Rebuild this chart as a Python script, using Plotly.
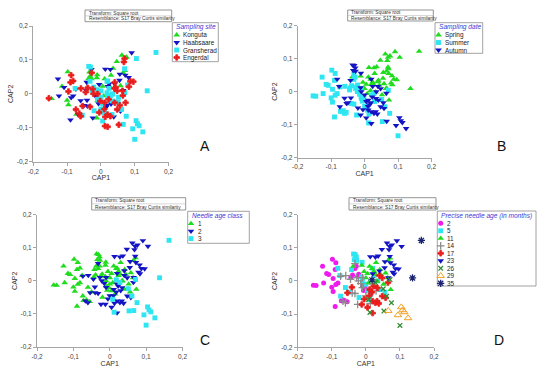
import plotly.graph_objects as go

W, H = 550, 372
FONT = "Liberation Sans, Arial, sans-serif"

# ------------------------------------------------------------------ data
# CAP ordination scores (CAP1, CAP2) of every needle sample, its precise
# needle age (months) and its sampling site (K=Konguta, H=Haabsaare,
# G=Gransherad, E=Engerdal).
cap1 = [
    # 2 months
    -0.154, -0.146, -0.127, -0.098, -0.088, -0.115, -0.109, -0.124, -0.096, -0.090,
    -0.082, -0.100, -0.096, -0.072, -0.064, -0.055, -0.090, -0.039, -0.044, -0.028,
    -0.032, -0.021, -0.024, -0.010, -0.002, -0.007, -0.088,
    # 5 months
    -0.036, -0.031, -0.028, -0.034, -0.027, -0.011, -0.042, -0.082, -0.074, -0.050,
    0.020, 0.024, 0.035, 0.041, 0.056, 0.011, -0.012, -0.010, 0.005, -0.076,
    -0.020, 0.015, -0.060, 0.000,
    # 11 months
    -0.037, -0.012, 0.011, 0.018, 0.024, 0.028, 0.041, 0.044, 0.058, 0.064,
    0.071, 0.066, 0.073, 0.000, 0.008, 0.033, -0.005, 0.052, 0.005, 0.030,
    # 14 months
    -0.074, -0.059, -0.032, -0.027, -0.022, -0.015, -0.010, -0.040, -0.032, -0.067,
    -0.060, -0.024, 0.000, 0.013, -0.010, 0.020, 0.030, -0.045,
    # 17 months
    -0.054, -0.041, -0.012, 0.020, 0.028, 0.033, 0.038, 0.011, 0.018, 0.023,
    0.034, 0.040, 0.048, 0.020, 0.048, 0.058, 0.005, 0.065, 0.010, -0.005,
    # 23 months
    0.062, 0.070, 0.076, 0.091, 0.105, 0.068, 0.013, 0.028, 0.036, 0.047,
    0.056, 0.072, 0.082, 0.087, 0.079, 0.083, 0.096, 0.055, 0.040, 0.020,
    0.070, 0.066,
    # 26 months
    0.051, 0.061, 0.075, 0.053, 0.012, 0.100, 0.071, 0.008, 0.028,
    # 29 months
    0.066, 0.104, 0.108, 0.113, 0.094, 0.124,
    # 35 months
    0.163, 0.137, 0.018,
]
cap2 = [
    # 2 months
    -0.013, -0.014, 0.044, 0.065, 0.055, 0.022, 0.019, -0.006, 0.007, 0.034,
    -0.006, -0.019, -0.032, -0.060, -0.058, -0.063, -0.077, 0.018, 0.011, 0.044,
    0.037, 0.020, 0.014, -0.016, -0.021, -0.029, -0.011,
    # 5 months
    0.081, 0.079, 0.072, 0.064, 0.062, 0.056, 0.034, 0.038, -0.046, -0.034,
    0.038, 0.016, 0.000, -0.026, -0.034, -0.056, 0.012, 0.000, -0.030, 0.016,
    -0.050, -0.040, -0.020, -0.010,
    # 11 months
    0.044, 0.047, 0.044, 0.037, 0.029, 0.020, 0.034, 0.019, 0.024, 0.009,
    0.069, 0.062, -0.026, 0.009, -0.006, -0.001, 0.028, -0.010, 0.022, 0.055,
    # 14 months
    0.014, 0.016, 0.052, 0.010, 0.000, -0.008, 0.010, -0.036, -0.038, -0.061,
    -0.066, -0.071, -0.045, -0.068, -0.020, -0.010, -0.030, 0.005,
    # 17 months
    -0.036, -0.019, -0.071, -0.061, -0.066, -0.061, -0.068, -0.026, -0.034, -0.016,
    -0.021, 0.016, 0.009, -0.097, -0.046, -0.051, -0.080, -0.005, -0.045, -0.055,
    # 23 months
    0.114, 0.104, 0.108, 0.121, 0.104, 0.094, 0.073, 0.072, 0.075, 0.095,
    0.058, 0.055, 0.048, 0.037, 0.026, 0.021, 0.036, 0.040, 0.030, 0.022,
    0.074, 0.010,
    # 26 months
    -0.024, -0.046, -0.066, -0.091, -0.095, -0.134, 0.004, -0.056, -0.005,
    # 29 months
    -0.090, -0.079, -0.088, -0.094, -0.103, -0.112,
    # 35 months
    0.122, 0.009, 0.003,
]
age_months = [2] * 27 + [5] * 24 + [11] * 20 + [14] * 18 + [17] * 20 + [23] * 22 + [26] * 9 + [29] * 6 + [35] * 3
site_code = list(
    "EKHKEKHHEEHKKKEGHEHKGGEGEHH"   # 2
    "GGHKEKHEEHGGGEEGGEGGGHHG"      # 5
    "KKKGHKEEKEKKEGKGHGKK"          # 11
    "HEKGEHKHEHEHGEKGHE"            # 14
    "EHKEEGHEHEGEEEEHGEEE"          # 17
    "KEKHGEHHKKHHHEGEEHHHGH"        # 23
    "GGGEEGGGG"                     # 26
    "GGGGGG"                        # 29
    "GGG"                           # 35
)

SITE_NAMES = {"K": "Konguta", "H": "Haabsaare", "G": "Gransherad", "E": "Engerdal"}
SITES = ["Konguta", "Haabsaare", "Gransherad", "Engerdal"]
DATES = ["Spring", "Summer", "Autumn"]
CLASSES = ["1", "2", "3"]
AGES = ["2", "5", "11", "14", "17", "23", "26", "29", "35"]
DATE_OF_AGE = {2: "Summer", 5: "Autumn", 11: "Spring", 14: "Summer", 17: "Autumn",
               23: "Spring", 26: "Summer", 29: "Autumn", 35: "Spring"}
CLASS_OF_AGE = {2: "1", 5: "1", 11: "1", 14: "2", 17: "2", 23: "2", 26: "3", 29: "3", 35: "3"}

TICK_VALUES = [-0.2, -0.1, 0, 0.1, 0.2]
TICK_LABELS = ["-0,2", "-0,1", "0", "0,1", "0,2"]

site = [SITE_NAMES[c] for c in site_code]
date = [DATE_OF_AGE[a] for a in age_months]
age_class = [CLASS_OF_AGE[a] for a in age_months]
age_label = [str(a) for a in age_months]

# ------------------------------------------------------------------ styles
GREEN, BLUE, CYAN, RED = "#1fdc1f", "#1414c4", "#2ee6f2", "#ec1c1c"
ST_UP = dict(symbol="triangle-up", color=GREEN, size=5.8)
ST_DOWN = dict(symbol="triangle-down", color=BLUE, size=5.8)
ST_SQ = dict(symbol="square", color=CYAN, size=4.9)
ST_RED = dict(symbol="cross", color=RED, size=4.6, lw=0.8)
STYLE_SITE = {"Konguta": ST_UP, "Haabsaare": ST_DOWN, "Gransherad": ST_SQ, "Engerdal": ST_RED}
STYLE_DATE = {"Spring": ST_UP, "Summer": ST_SQ, "Autumn": ST_DOWN}
STYLE_CLASS = {"1": ST_UP, "2": ST_DOWN, "3": ST_SQ}
STYLE_AGE = {
    "2": dict(symbol="circle", color="#ee1aee", size=5),
    "5": ST_SQ,
    "11": ST_UP,
    "14": dict(symbol="cross-thin-open", color="#8c8c8c", size=5.5, lw=1.3),
    "17": ST_RED,
    "23": ST_DOWN,
    "26": dict(symbol="x-thin-open", color="#2e8b2e", size=4.6, lw=1.3),
    "29": dict(symbol="triangle-up-open", color="#f0a020", size=6.5, lw=1.0),
    "35": dict(symbol="asterisk-open", color="#1a2470", size=6, lw=1.3),
}


def marker(st):
    m = dict(symbol=st["symbol"], color=st["color"], size=st["size"])
    if "lw" in st:
        m["line"] = dict(color=st["color"], width=st["lw"])
    else:
        m["line"] = dict(width=0)
    return m


# panel geometry in pixels
PANELS = [
    dict(labels=site, cats=SITES, styles=STYLE_SITE, title="Sampling site",
         plot=(33.3, 168.5, 26.0, 161.7), letter=("A", 205, 146),
         tbox=(85, 171.7, 10, 21.7), lbox=(172.3, 218.3, 22.7, 61.7), lx=176.7),
    dict(labels=date, cats=DATES, styles=STYLE_DATE, title="Sampling date",
         plot=(297.7, 431.5, 25.7, 157.5), letter=("B", 501.5, 146),
         tbox=(347.7, 433.3, 10, 21), lbox=(435, 482.7, 22.7, 53.3), lx=438.5),
    dict(labels=age_class, cats=CLASSES, styles=STYLE_CLASS, title="Needle age class",
         plot=(37.0, 182.5, 214.5, 347.0), letter=("C", 205, 339.5),
         tbox=(91.7, 185.7, 197.7, 210), lbox=(187.7, 249.3, 211.3, 243.3), lx=191),
    dict(labels=age_label, cats=AGES, styles=STYLE_AGE, title="Precise needle age (in months)",
         plot=(297.7, 434.0, 214.5, 347.3), letter=("D", 499, 339.5),
         tbox=(349, 436, 197.7, 210), lbox=(437.3, 536, 211, 286), lx=440.7),
]

fig = go.Figure()
layout = dict(
    width=W, height=H, margin=dict(l=0, r=0, t=0, b=0, autoexpand=False),
    paper_bgcolor="white", plot_bgcolor="rgba(0,0,0,0)",
    showlegend=False, font=dict(family=FONT, color="#333333"),
)
annotations, shapes = [], []
AX_COLOR = "#a6a6a6"

for i, p in enumerate(PANELS):
    n = i + 1
    xs = "x" if n == 1 else f"x{n}"
    ys = "y" if n == 1 else f"y{n}"
    x0, x1, y0, y1 = p["plot"]
    common = dict(range=[-0.2, 0.2], autorange=False, tickvals=TICK_VALUES, ticktext=TICK_LABELS,
                  showline=True, linecolor=AX_COLOR, linewidth=1, ticks="outside", ticklen=3,
                  tickcolor=AX_COLOR, showgrid=False, zeroline=False, automargin=False,
                  tickfont=dict(size=6.5, color="#444444", family=FONT))
    layout["xaxis" if n == 1 else f"xaxis{n}"] = dict(
        common, domain=[x0 / W, x1 / W], anchor=ys,
        title=dict(text="CAP1", font=dict(size=7, color="#333333"), standoff=1))
    layout["yaxis" if n == 1 else f"yaxis{n}"] = dict(
        common, domain=[1 - y1 / H, 1 - y0 / H], anchor=xs,
        title=dict(text="CAP2", font=dict(size=7, color="#333333"), standoff=2))

    for cat in p["cats"]:
        idx = [k for k, lab in enumerate(p["labels"]) if lab == cat]
        fig.add_trace(go.Scatter(
            x=[cap1[k] for k in idx], y=[cap2[k] for k in idx], mode="markers",
            marker=marker(p["styles"][cat]), xaxis=xs, yaxis=ys, name=cat,
            cliponaxis=False))

    # transform / resemblance box
    bx0, bx1, by0, by1 = p["tbox"]
    shapes.append(dict(type="rect", xref="x5", yref="y5", x0=bx0, x1=bx1, y0=by0, y1=by1,
                       line=dict(color="#7a7a7a", width=0.8), fillcolor="white"))
    shapes.append(dict(type="line", xref="x5", yref="y5", x0=bx0, x1=bx1,
                       y0=(by0 + by1) / 2, y1=(by0 + by1) / 2,
                       line=dict(color="#b0b0b0", width=0.5)))
    for t, ty in (("Transform: Square root", by0 + (by1 - by0) * 0.26),
                  ("Resemblance: S17 Bray Curtis similarity", by0 + (by1 - by0) * 0.76)):
        annotations.append(dict(text=t, xref="x5", yref="y5", x=bx0 + 1.5, y=ty,
                                xanchor="left", yanchor="middle", showarrow=False,
                                font=dict(size=4.8, color="#333333", family=FONT)))

    # legend box
    lx0, lx1, ly0, ly1 = p["lbox"]
    shapes.append(dict(type="rect", xref="x5", yref="y5", x0=lx0, x1=lx1, y0=ly0, y1=ly1,
                       line=dict(color="#8a8a8a", width=0.8), fillcolor="white", layer="below"))
    annotations.append(dict(text=f"<i>{p['title']}</i>", xref="x5", yref="y5",
                            x=lx0 + 2, y=ly0 + 4.7, xanchor="left", yanchor="middle",
                            showarrow=False, font=dict(size=6.6, color="#3b3bd6", family=FONT)))
    step = 7.5
    first = ly0 + 12.3
    for j, cat in enumerate(p["cats"]):
        yy = first + j * step
        fig.add_trace(go.Scatter(x=[p["lx"]], y=[yy], mode="markers",
                                 marker=marker(p["styles"][cat]), xaxis="x5", yaxis="y5",
                                 cliponaxis=False, hoverinfo="skip"))
        annotations.append(dict(text=cat, xref="x5", yref="y5", x=p["lx"] + 4.5, y=yy,
                                xanchor="left", yanchor="middle", showarrow=False,
                                font=dict(size=6.4, color="#222222", family=FONT)))

    # panel letter
    letter, lxp, lyp = p["letter"]
    annotations.append(dict(text=letter, xref="x5", yref="y5", x=lxp, y=lyp,
                            xanchor="center", yanchor="middle", showarrow=False,
                            font=dict(size=14, color="#111111", family=FONT)))

layout["xaxis5"] = dict(domain=[0, 1], range=[0, W], visible=False, anchor="y5",
                        fixedrange=True, automargin=False)
layout["yaxis5"] = dict(domain=[0, 1], range=[H, 0], visible=False, anchor="x5",
                        fixedrange=True, automargin=False)
layout["annotations"] = annotations
layout["shapes"] = shapes
fig.update_layout(**layout)
fig.write_html(
    "out.html",
    config={"displayModeBar": False},
    post_script="document.body.style.margin='0';document.body.style.padding='0';",
)
